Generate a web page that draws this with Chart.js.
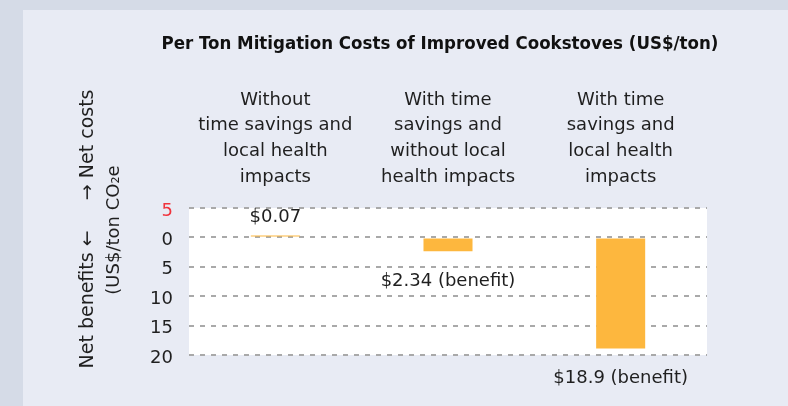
<!DOCTYPE html>
<html>
<head>
<meta charset="utf-8">
<script src="https://cdn.jsdelivr.net/npm/chart.js@4"></script>
<style>
html,body{margin:0;padding:0;background:#d5dbe7;}
#wrap{width:788px;height:406px;}
</style>
</head>
<body>
<div id="wrap"><canvas id="c" width="788" height="406"></canvas></div>
<script>
const categories = [
  ["Without", "time savings and", "local health", "impacts"],
  ["With time", "savings and", "without local", "health impacts"],
  ["With time", "savings and", "local health", "impacts"]
];
const costs = [0.07, -2.34, -18.9];
const yTicks = [5, 0, -5, -10, -15, -20];
const titleText = "Per Ton Mitigation Costs of Improved Cookstoves (US$/ton)";
const yTitle1 = "Net benefits \u2190     \u2192 Net costs";
const yTitle2 = "(US$/ton CO\u2082e";

const FONT = "'DejaVu Sans', sans-serif";
const TEXT = "#1f1f1f";

const decor = {
  id: "decor",
  beforeDraw(chart) {
    const ctx = chart.ctx, a = chart.chartArea;
    ctx.save();
    ctx.fillStyle = "#d5dbe7";
    ctx.fillRect(0, 0, chart.width, chart.height);
    ctx.fillStyle = "#e8ebf4";
    ctx.fillRect(23, 10, chart.width - 23, chart.height - 10);
    ctx.fillStyle = "#ffffff";
    ctx.fillRect(a.left, a.top, a.right - a.left, a.bottom - a.top);
    ctx.restore();
  },
  afterDraw(chart) {
    const ctx = chart.ctx;
    ctx.save();
    ctx.fillStyle = "#111";
    ctx.font = "bold 18.5px 'DejaVu Sans Condensed', 'Liberation Sans Narrow', sans-serif";
    ctx.textAlign = "center";
    ctx.textBaseline = "middle";
    ctx.fillText(titleText, 440, 44);
    ctx.restore();
    ctx.save();
    ctx.fillStyle = TEXT;
    ctx.font = "19px " + FONT;
    ctx.textAlign = "center";
    ctx.textBaseline = "middle";
    ctx.translate(88, 229);
    ctx.rotate(-Math.PI / 2);
    ctx.fillText(yTitle1, 0, 0);
    ctx.restore();
    ctx.save();
    ctx.fillStyle = TEXT;
    ctx.font = "18px " + FONT;
    ctx.textAlign = "center";
    ctx.textBaseline = "middle";
    ctx.translate(114, 230);
    ctx.rotate(-Math.PI / 2);
    ctx.fillText(yTitle2, 0, 0);
    ctx.restore();
  },
  afterDatasetsDraw(chart) {
    const ctx = chart.ctx;
    const meta = chart.getDatasetMeta(0);
    ctx.save();
    ctx.fillStyle = TEXT;
    ctx.font = "18px " + FONT;
    ctx.textAlign = "center";
    ctx.textBaseline = "middle";
    meta.data.forEach((bar, i) => {
      const v = costs[i];
      const txt = "$" + Math.abs(v) + (v < 0 ? " (benefit)" : "");
      const y = v >= 0 ? bar.y - 18 : bar.y + 30;
      ctx.fillText(txt, bar.x, y);
    });
    ctx.restore();
  }
};

new Chart(document.getElementById("c"), {
  type: "bar",
  data: {
    labels: categories,
    datasets: [{
      data: costs,
      backgroundColor: "#fdb73e",
      borderWidth: 0,
      barPercentage: 0.284,
      categoryPercentage: 1,
      minBarLength: 2
    }]
  },
  options: {
    responsive: false,
    animation: false,
    layout: { padding: { left: 100, right: 81, top: 78, bottom: 51 } },
    plugins: { legend: { display: false }, tooltip: { enabled: false } },
    scales: {
      x: {
        position: "top",
        grid: { display: false, drawTicks: false },
        border: { display: false },
        ticks: {
          font: { family: FONT, size: 18, lineHeight: 1.43 },
          color: TEXT,
          padding: 18,
          maxRotation: 0,
          autoSkip: false
        },
        afterFit(s) { s.height = 130; }
      },
      y: {
        min: -20,
        max: 5,
        afterBuildTicks(s) { s.ticks = yTicks.map(v => ({ value: v })); },
        grid: {
          color: "#a9a9a9",
          lineWidth: 2,
          drawTicks: false
        },
        border: { display: false, dash: [5, 6] },
        ticks: {
          font: { family: FONT, size: 18 },
          color: c => (c.tick && c.tick.value === 5 ? "#f0333c" : TEXT),
          padding: 16,
          labelOffset: 3,
          callback: v => String(Math.abs(v))
        },
        afterFit(s) { s.width = 89; }
      }
    }
  },
  plugins: [decor]
});
</script>
</body>
</html>
